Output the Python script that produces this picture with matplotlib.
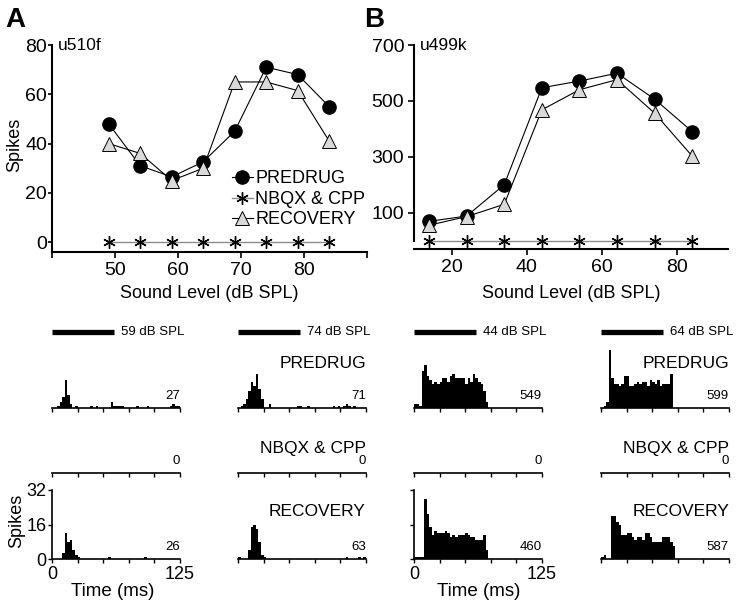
import numpy as np
import matplotlib.pyplot as plt

plt.rcParams['font.family'] = ['Liberation Sans', 'DejaVu Sans']

# rate-level functions
levels_a = [49, 54, 59, 64, 69, 74, 79, 84]
predrug_a = [48, 31, 26.5, 32.6, 45, 71, 68, 55]
nbqx_a = [0, 0, 0, 0, 0, 0, 0, 0]
recovery_a = [40, 36, 25, 30, 65, 65, 61.5, 41]

levels_b = [14, 24, 34, 44, 54, 64, 74, 84]
predrug_b = [69, 88, 200, 547, 571, 599, 506, 390]
nbqx_b = [0, 0, 0, 0, 0, 0, 0, 0]
recovery_b = [55, 86, 130, 468, 540, 576, 456, 302]

# PSTHs, 2.5 ms bins from 0 to 125 ms
bin_ms = 2.5
psth_59_pre = [0, 0, 1, 3, 5, 13, 6, 2, 0, 1, 0, 0, 0, 0, 0, 1, 0, 1, 0, 0, 0, 0, 0, 3, 1,
               1, 1, 1, 0, 0, 0, 0, 0, 1, 0, 0, 0, 1, 0, 0, 0, 0, 0, 0, 0, 0, 1, 2, 1, 1]
psth_59_rec = [0, 0, 0, 0, 3, 12, 8, 9, 4, 2, 1, 0, 0, 0, 0, 0, 0, 0, 0, 0, 0, 0, 1, 0, 0,
               0, 0, 0, 0, 0, 0, 0, 0, 0, 0, 0, 1, 0, 0, 0, 0, 0, 0, 0, 0, 0, 0, 0, 0, 0]
psth_74_pre = [0, 1, 2, 4, 8, 12, 10, 16, 9, 4, 0, 0, 2, 0, 0, 0, 0, 0, 0, 0, 0, 0, 0, 1, 1,
               0, 0, 1, 0, 0, 0, 0, 0, 0, 0, 0, 0, 1, 0, 1, 0, 1, 2, 1, 0, 1, 0, 0, 0, 0]
psth_74_rec = [1, 0, 0, 0, 4, 15, 16, 14, 8, 2, 1, 0, 0, 0, 0, 0, 0, 0, 0, 0, 0, 0, 0, 0, 0,
               0, 0, 0, 0, 0, 0, 0, 0, 0, 0, 0, 0, 0, 0, 0, 0, 0, 1, 0, 0, 0, 0, 1, 0, 1]
psth_44_pre = [2, 2, 1, 17, 20, 15, 13, 11, 12, 11, 12, 14, 14, 12, 15, 16, 14, 14, 14, 14,
               11, 14, 12, 16, 14, 12, 11, 8, 3, 0, 0, 0, 0, 0, 0, 0, 0, 0, 0, 0,
               0, 0, 0, 0, 0, 0, 0, 0, 0, 0]
psth_44_rec = [1, 1, 1, 1, 28, 21, 15, 11, 13, 12, 12, 12, 13, 12, 10, 11, 10, 11, 11, 11,
               12, 11, 10, 10, 9, 9, 9, 11, 4, 0, 0, 0, 0, 0, 0, 0, 0, 0, 0, 0,
               0, 0, 0, 0, 0, 0, 0, 0, 0, 0]
psth_64_pre = [0, 1, 3, 27, 14, 11, 11, 10, 11, 15, 15, 10, 10, 11, 12, 11, 12, 12, 10, 13,
               12, 11, 13, 10, 11, 11, 11, 16, 0, 0, 0, 0, 0, 0, 0, 0, 0, 0, 0, 0,
               0, 0, 0, 0, 0, 0, 0, 0, 0, 0]
psth_64_rec = [1, 2, 0, 0, 20, 20, 17, 16, 11, 11, 12, 12, 10, 9, 10, 10, 9, 12, 12, 10,
               8, 8, 8, 8, 10, 10, 10, 8, 6, 0, 0, 0, 0, 0, 0, 0, 0, 0, 0, 0,
               0, 0, 0, 0, 0, 0, 0, 0, 0, 0]
psth_none = [0] * 50

psth_levels = ['59', '74', '44', '64']
psths = [[psth_59_pre, psth_none, psth_59_rec],
         [psth_74_pre, psth_none, psth_74_rec],
         [psth_44_pre, psth_none, psth_44_rec],
         [psth_64_pre, psth_none, psth_64_rec]]
spike_counts = [[27, 0, 26], [71, 0, 63], [549, 0, 460], [599, 0, 587]]
conditions = ['PREDRUG', 'NBQX & CPP', 'RECOVERY']
stim_on, stim_off = 0, 61

W, H = 750, 613
fig = plt.figure(figsize=(W / 100, H / 100), dpi=100)


def px_axes(x0, y0, x1, y1):
    ax = fig.add_axes([x0 / W, 1 - y1 / H, (x1 - x0) / W, (y1 - y0) / H])
    ax.patch.set_visible(False)
    return ax


def ptext(x, y, s, **kw):
    fig.text(x / W, 1 - y / H, s, **kw)


def rate_panel(ax, lev, pre, nb, rec, lab):
    ax.plot(lev, pre, '-o', color='k', lw=0.8, ms=9.5, label='PREDRUG', zorder=3)
    ax.plot(lev, nb, '-', color='0.55', lw=1.0, marker=(6, 2, 0), mec='k',
            mew=1.0, ms=9, label='NBQX & CPP')
    ax.plot(lev, rec, '-^', color='k', mfc='0.85', mec='k', mew=0.7, ms=10,
            lw=0.8, label='RECOVERY', zorder=3)
    for s in ['top', 'right']:
        ax.spines[s].set_visible(False)
    for s in ['left', 'bottom']:
        ax.spines[s].set_linewidth(1.5)
    ax.tick_params(direction='out', length=4, width=1.2, labelsize=14, pad=3)
    ax.text(0.02, 1.0, lab, transform=ax.transAxes, fontsize=12.5, va='center')


# panel A
axA = px_axes(52, 45, 367, 252)
rate_panel(axA, levels_a, predrug_a, nbqx_a, recovery_a, 'u510f')
axA.set_xlim(40, 90)
axA.set_ylim(-4, 80)
axA.set_xticks([40, 50, 60, 70, 80, 90])
axA.set_xticklabels(['', '50', '60', '70', '80', ''])
axA.set_yticks([0, 20, 40, 60, 80])
axA.tick_params(axis='y', length=3, pad=0.5)
axA.legend(loc='upper left', bbox_to_anchor=(0.57, 0.395), frameon=False,
           fontsize=13, handlelength=1.2, handletextpad=0.1, labelspacing=0.2,
           borderpad=0, borderaxespad=0)

# panel B
axB = px_axes(414, 45, 728, 249)
rate_panel(axB, levels_b, predrug_b, nbqx_b, recovery_b, 'u499k')
axB.set_xlim(10, 93.5)
axB.set_ylim(-30, 700)
axB.set_xticks([20, 40, 60, 80])
axB.set_yticks([100, 300, 500, 700])
axB.spines['left'].set_bounds(0, 700)

ptext(5, 20, 'A', fontsize=20, fontweight='bold', va='center')
ptext(364, 20, 'B', fontsize=20, fontweight='bold', va='center')
ptext(15, 145, 'Spikes', fontsize=13, rotation=90, ha='center', va='center')
ptext(209, 293, 'Sound Level (dB SPL)', fontsize=13, ha='center', va='center')
ptext(571, 293, 'Sound Level (dB SPL)', fontsize=13, ha='center', va='center')

# PSTHs
col_x = [52, 238, 414, 601]
row_top = [339, 404, 490]
label_y = [0.648, 0.36, 0.686]
edges = np.arange(51) * bin_ms
for c in range(4):
    for r in range(3):
        x0, y0 = col_x[c], row_top[r]
        ax = px_axes(x0, y0, x0 + 128, y0 + 69)
        ax.stairs(psths[c][r], edges, fill=True, color='k', lw=0)
        ax.set_xlim(0, 125)
        ax.set_ylim(0, 32)
        for s in ['top', 'right', 'left']:
            ax.spines[s].set_visible(False)
        ax.spines['bottom'].set_linewidth(1.2)
        ax.spines['left'].set_linewidth(1.2)
        ax.set_xticks(np.arange(0, 126, 25))
        ax.tick_params(direction='out', length=3, width=1, labelsize=13, pad=2)
        ax.set_xticklabels([])
        ax.set_yticks([])
        ax.text(1.0, 0.175, str(spike_counts[c][r]), transform=ax.transAxes,
                fontsize=9.5, ha='right', va='center')
        if c in (1, 3):
            ax.text(1.0, label_y[r], conditions[r], transform=ax.transAxes,
                    fontsize=12.5, ha='right', va='center')
        if r == 0:
            ax.plot([stim_on, stim_off], [35.2, 35.2], color='k', lw=3.8,
                    solid_capstyle='butt', clip_on=False)
            ax.text(67, 35.2, psth_levels[c] + ' dB SPL', fontsize=9.5, va='center')
        if r == 2 and c in (0, 2):
            ax.spines['left'].set_visible(True)
            ax.set_yticks([0, 16, 32])
            ax.set_xticklabels(['0', '', '', '', '', '125'])
            if c == 0:
                ax.set_yticklabels(['0', '16', '32'])
                ax.tick_params(axis='y', pad=1)
            else:
                ax.set_yticklabels([])

ptext(17, 521, 'Spikes', fontsize=13, rotation=90, ha='center', va='center')
ptext(113, 591, 'Time (ms)', fontsize=13.5, ha='center', va='center')
ptext(479, 591, 'Time (ms)', fontsize=13.5, ha='center', va='center')

fig.savefig('out.png', dpi=100)
